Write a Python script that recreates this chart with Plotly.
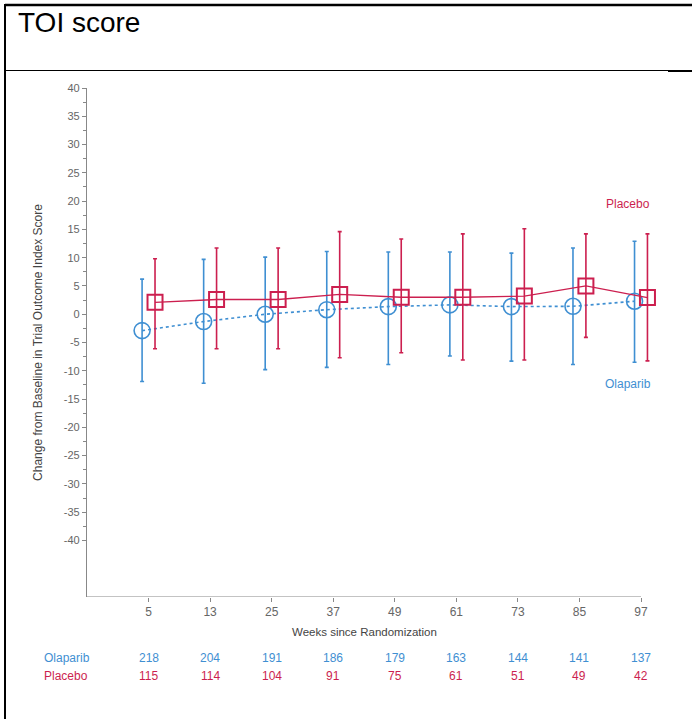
import plotly.graph_objects as go

weeks = ["5", "13", "25", "37", "49", "61", "73", "85", "97"]

olaparib_mean = [-2.9, -1.3, 0.0, 0.8, 1.35, 1.65, 1.35, 1.4, 2.3]
olaparib_upper = [6.2, 9.7, 10.1, 11.1, 11.0, 11.0, 10.8, 11.7, 12.9]
olaparib_lower = [-11.9, -12.2, -9.8, -9.4, -8.9, -7.4, -8.3, -8.9, -8.5]

placebo_mean = [2.1, 2.6, 2.6, 3.5, 3.0, 3.0, 3.2, 5.0, 2.95]
placebo_upper = [9.8, 11.7, 11.7, 14.6, 13.3, 14.2, 15.1, 14.2, 14.2]
placebo_lower = [-6.1, -6.1, -6.1, -7.7, -6.8, -8.1, -8.1, -4.1, -8.25]

olaparib_n = [218, 204, 191, 186, 179, 163, 144, 141, 137]
placebo_n = [115, 114, 104, 91, 75, 61, 51, 49, 42]

y_major = list(range(-40, 45, 5))
y_minor = [v + 2.5 for v in range(-40, 40, 5)]

BLUE = "#3f8fd2"
RED = "#cc1f4f"
GRAY = "#666666"
AXIS = "#888888"
FONT = "Liberation Sans Narrow, Liberation Sans, Arial, sans-serif"

W, H = 692, 719
L, T, B = 87, 88, 122
AXIS_END_PX = 641      # where the x-axis line ends (last category)
PLOT_RIGHT_PX = 660    # plot area extends a bit so the last square is not clipped
R = W - PLOT_RIGHT_PX
pw, ph = W - L - R, H - T - B

n_cat = len(weeks)
unit_px = (AXIS_END_PX - L) / n_cat
x_min = -1
x_max = (n_cat - 1) + (PLOT_RIGHT_PX - AXIS_END_PX) / unit_px
y_min, y_max = -50, 40

def px_x(p):
    return (p - L) / pw

def px_y(p):
    return (H - B - p) / ph

idx = list(range(n_cat))
off = 0.105

fig = go.Figure()

fig.add_trace(go.Scatter(
    x=[i - off for i in idx], y=olaparib_mean,
    mode="lines+markers",
    line=dict(color=BLUE, width=1.6, dash="dot"),
    marker=dict(symbol="circle-open", size=16, color=BLUE, line=dict(width=1.6, color=BLUE)),
    error_y=dict(type="data", symmetric=False,
                 array=[u - m for u, m in zip(olaparib_upper, olaparib_mean)],
                 arrayminus=[m - l for m, l in zip(olaparib_mean, olaparib_lower)],
                 color=BLUE, thickness=1.6, width=2),
    name="Olaparib", showlegend=False, hoverinfo="skip",
))

fig.add_trace(go.Scatter(
    x=[i + off for i in idx], y=placebo_mean,
    mode="lines+markers",
    line=dict(color=RED, width=1.3),
    marker=dict(symbol="square-open", size=15, color=RED, line=dict(width=2, color=RED)),
    error_y=dict(type="data", symmetric=False,
                 array=[u - m for u, m in zip(placebo_upper, placebo_mean)],
                 arrayminus=[m - l for m, l in zip(placebo_mean, placebo_lower)],
                 color=RED, thickness=1.6, width=2),
    name="Placebo", showlegend=False, hoverinfo="skip",
))

def ann(x, y, text, color, size=12, xanchor="center", xref="paper", family=FONT):
    return dict(x=x, y=y, xref=xref, yref="paper", text=text, showarrow=False,
                xanchor=xanchor, yanchor="middle",
                font=dict(family=family, size=size, color=color))

annotations = [
    ann(px_x(628), px_y(204), "Placebo", RED),
    ann(px_x(628), px_y(384), "Olaparib", BLUE),
    ann(px_x(16), px_y(22), "TOI score", "#000", size=28, xanchor="left",
        family="Liberation Sans, Arial, sans-serif"),
    ann((x_min + n_cat - 1) / 2, px_y(632), "Weeks since Randomization", "#444",
        size=11.5, xref="x"),
    ann(px_x(42), px_y(658), "Olaparib", BLUE, xanchor="left"),
    ann(px_x(42), px_y(676), "Placebo", RED, xanchor="left"),
]
for i, (a, b) in enumerate(zip(olaparib_n, placebo_n)):
    annotations.append(ann(i, px_y(658), str(a), BLUE, xref="x"))
    annotations.append(ann(i, px_y(676), str(b), RED, xref="x"))

shapes = [
    # frame of the surrounding table
    dict(type="line", xref="paper", yref="paper", x0=px_x(5), x1=px_x(692),
         y0=px_y(5), y1=px_y(5), line=dict(color="#000", width=2.5)),
    dict(type="line", xref="paper", yref="paper", x0=px_x(5), x1=px_x(5),
         y0=px_y(4), y1=px_y(719), line=dict(color="#000", width=2)),
    dict(type="line", xref="paper", yref="paper", x0=px_x(5), x1=px_x(668),
         y0=px_y(70.5), y1=px_y(70.5), line=dict(color="#000", width=1.2)),
    dict(type="line", xref="paper", yref="paper", x0=px_x(668), x1=px_x(692),
         y0=px_y(71), y1=px_y(71), line=dict(color="#000", width=2)),
    # x-axis baseline ending at the last category
    dict(type="line", xref="x", yref="y", x0=x_min, x1=n_cat - 1,
         y0=y_min, y1=y_min, line=dict(color=AXIS, width=1.2), layer="below"),
]

fig.update_layout(
    width=W, height=H,
    margin=dict(l=L, r=R, t=T, b=B, pad=0),
    paper_bgcolor="white", plot_bgcolor="white",
    font=dict(family=FONT, color=GRAY, size=11),
    annotations=annotations,
    shapes=shapes,
    hovermode=False,
    xaxis=dict(
        range=[x_min, x_max], tickmode="array", tickvals=idx, ticktext=weeks,
        showline=False, ticks="outside", ticklen=4,
        tickcolor=AXIS, showgrid=False, zeroline=False,
        tickfont=dict(family=FONT, size=12, color=GRAY),
    ),
    yaxis=dict(
        range=[y_min, y_max], tickmode="array", tickvals=y_major,
        ticktext=[str(v) for v in y_major],
        showline=True, linecolor=AXIS, linewidth=1.2, ticks="outside", ticklen=4,
        tickcolor=AXIS, showgrid=False, zeroline=False,
        tickfont=dict(family=FONT, size=11, color=GRAY),
        minor=dict(tickmode="array", tickvals=y_minor, ticks="outside", ticklen=3,
                   tickcolor=AXIS, showgrid=False),
        title=dict(text="Change from Baseline in Trial Outcome Index Score", standoff=18,
                   font=dict(family=FONT, size=12, color="#444")),
    ),
)

fig.write_html("out.html", config={"displayModeBar": False},
               post_script="document.body.style.margin='0';")
